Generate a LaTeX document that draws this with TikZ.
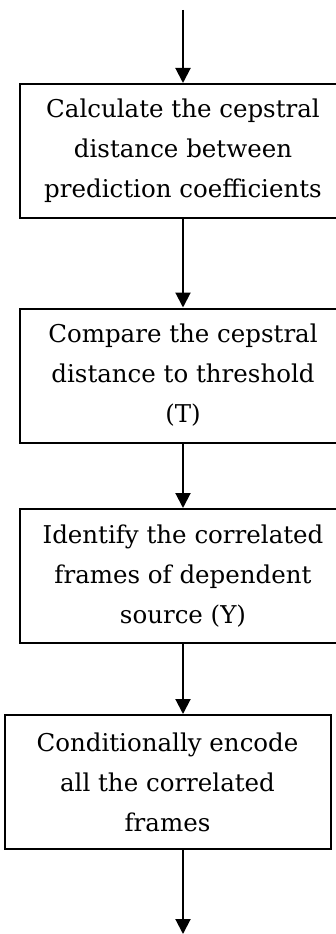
\documentclass[tikz,border=0pt]{standalone}
\usepackage{fontspec}
\setmainfont{DejaVu Serif}
\usetikzlibrary{arrows.meta}

\tikzset{
    stepbox/.style={draw, line width=2pt, minimum width=326pt, minimum height=134pt,
        align=center, inner sep=0pt, font=\fontsize{24.5}{40}\selectfont},
    flow/.style={line width=2pt, -{Triangle[width=15pt,length=15pt]}},
}

\begin{document}
\begin{tikzpicture}[x=1pt,y=-1pt]
    \useasboundingbox (0,0) rectangle (336,934);

    \coordinate (start) at (183,10);
    \node[stepbox] (calc) at (183,151) {Calculate the cepstral\\distance between\\prediction coefficients};
    \node[stepbox] (comp) at (183,375.5) {Compare the cepstral\\distance to threshold\\(T)};
    \node[stepbox] (ident) at (183,576) {Identify the correlated\\frames of dependent\\source (Y)};
    \node[stepbox] (enc) at (167.5,782) {Conditionally encode\\all the correlated\\frames};
    \coordinate (end) at (183,934);

    \draw[flow] (start) -- (calc);
    \draw[flow] (calc) -- (comp);
    \draw[flow] (comp) -- (ident);
    \draw[flow] (ident.south) -- (ident.south |- enc.north);
    \draw[flow] (enc.south -| end) -- (end);
\end{tikzpicture}
\end{document}
